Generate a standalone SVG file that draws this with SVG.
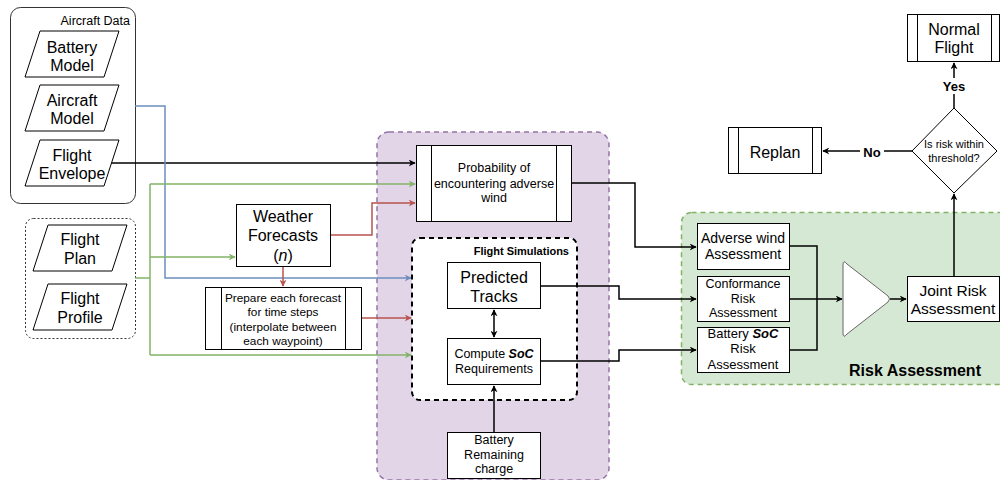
<svg xmlns="http://www.w3.org/2000/svg" width="1000" height="480" viewBox="0 0 1000 480">
<style>
text{font-family:"Liberation Sans",Arial,sans-serif;fill:#000;text-anchor:middle}
.box{fill:#fff;stroke:#000;stroke-width:1}
.inner{fill:none;stroke:#000;stroke-width:1}
.c{fill:none;stroke-width:1.5}
.k{stroke:#000}
.b{stroke:#6c8ebf}
.g{stroke:#82b366}
.r{stroke:#b85450}
.t16{font-size:16px}
.t15{font-size:15.5px}
.t14{font-size:14px}
.t13{font-size:13px}
.t125{font-size:12.5px}
.t12{font-size:11.8px}
.t11{font-size:11px}
.bold{font-weight:bold}
</style>
<defs>
<marker id="ak" viewBox="0 0 10 10" refX="9" refY="5" markerWidth="7" markerHeight="7" markerUnits="userSpaceOnUse" orient="auto-start-reverse"><path d="M0,0 L10,5 L0,10 L3,5 Z" fill="#000"/></marker>
<marker id="ab" viewBox="0 0 10 10" refX="9" refY="5" markerWidth="7" markerHeight="7" markerUnits="userSpaceOnUse" orient="auto"><path d="M0,0 L10,5 L0,10 L3,5 Z" fill="#6c8ebf"/></marker>
<marker id="ag" viewBox="0 0 10 10" refX="9" refY="5" markerWidth="7" markerHeight="7" markerUnits="userSpaceOnUse" orient="auto"><path d="M0,0 L10,5 L0,10 L3,5 Z" fill="#82b366"/></marker>
<marker id="ar" viewBox="0 0 10 10" refX="9" refY="5" markerWidth="7" markerHeight="7" markerUnits="userSpaceOnUse" orient="auto"><path d="M0,0 L10,5 L0,10 L3,5 Z" fill="#b85450"/></marker>
</defs>

<!-- containers -->
<g id="aircraft-data">
<rect x="10.5" y="7.5" width="125" height="196" rx="10" fill="#fff" stroke="#333" stroke-width="1"/>
<text x="130" y="25" style="text-anchor:end;font-size:12.5px">Aircraft Data</text>
</g>
<g id="flight-data">
<rect x="25.5" y="218.5" width="110" height="120" rx="8" fill="#fff" stroke="#333" stroke-width="1" stroke-dasharray="2,2"/>
</g>
<g id="purple-container">
<rect x="377" y="132" width="232" height="348" rx="12" fill="#e1d5e7" stroke="#9673a6" stroke-width="1.5" stroke-dasharray="5,4"/>
</g>
<g id="risk-container">
<rect x="681.5" y="212.5" width="330" height="172" rx="10" fill="#d5e8d4" stroke="#82b366" stroke-width="1.5" stroke-dasharray="5,4"/>
<text x="915" y="376" class="t16 bold">Risk Assessment</text>
</g>
<g id="flight-sims">
<rect x="412" y="238" width="165" height="162" rx="8" fill="#fff" stroke="#000" stroke-width="2" stroke-dasharray="5,4"/>
<text x="569" y="255" class="t11 bold" style="text-anchor:end">Flight Simulations</text>
</g>

<!-- connectors -->
<g id="connectors">
<path class="c k" d="M109,163 H415" marker-end="url(#ak)"/>
<path class="c b" d="M135,106 H165 V278 H411" marker-end="url(#ab)"/>
<path class="c g" d="M135,278 H150"/>
<path class="c g" d="M150,184 V355"/>
<path class="c g" d="M150,184 H415" marker-end="url(#ag)"/>
<path class="c g" d="M150,257 H235" marker-end="url(#ag)"/>
<path class="c g" d="M150,355 H411" marker-end="url(#ag)"/>
<path class="c r" d="M330,235 H372 V203 H415" marker-end="url(#ar)"/>
<path class="c r" d="M283,266 V286" marker-end="url(#ar)"/>
<path class="c r" d="M361,318 H411" marker-end="url(#ar)"/>
<path class="c k" d="M494,310 V337" marker-start="url(#ak)" marker-end="url(#ak)"/>
<path class="c k" d="M494,432 V386" marker-end="url(#ak)"/>
<path class="c k" d="M572,183 H635 V247 H696" marker-end="url(#ak)"/>
<path class="c k" d="M541,286 H619 V299 H696" marker-end="url(#ak)"/>
<path class="c k" d="M541,361 H619 V350 H696" marker-end="url(#ak)"/>
<path class="c k" d="M790,246 H817 V350 H790"/>
<path class="c k" d="M790,299 H842" marker-end="url(#ak)"/>
<path class="c k" d="M890,299 H906" marker-end="url(#ak)"/>
<path class="c k" d="M954,276 V194" marker-end="url(#ak)"/>
<path class="c k" d="M912,151 H823" marker-end="url(#ak)"/>
<path class="c k" d="M954,108 V63" marker-end="url(#ak)"/>
<rect x="860" y="143" width="24" height="17" fill="#fff"/>
<text x="872" y="157" class="t13 bold">No</text>
<rect x="940" y="78" width="28" height="16" fill="#fff"/>
<text x="954" y="91" class="t13 bold">Yes</text>
</g>

<!-- nodes -->
<g id="battery-model">
<polygon class="box" points="40,31 119,31 104,77 25,77"/>
<text x="72" y="52.5" class="t16">Battery</text><text x="72" y="71" class="t16">Model</text>
</g>
<g id="aircraft-model">
<polygon class="box" points="40,85 119,85 104,131 25,131"/>
<text x="72" y="106" class="t16">Aircraft</text><text x="72" y="124" class="t16">Model</text>
</g>
<g id="flight-envelope">
<polygon class="box" points="40,140 119,140 104,186 25,186"/>
<text x="72" y="161" class="t16">Flight</text><text x="72" y="179" class="t16">Envelope</text>
</g>
<g id="flight-plan">
<polygon class="box" points="48,225 127,225 112,271 33,271"/>
<text x="80" y="245" class="t16">Flight</text><text x="80" y="264" class="t16">Plan</text>
</g>
<g id="flight-profile">
<polygon class="box" points="48,284 127,284 112,330 33,330"/>
<text x="80" y="304" class="t16">Flight</text><text x="80" y="323" class="t16">Profile</text>
</g>
<g id="weather">
<rect class="box" x="236.5" y="204.5" width="94" height="62"/>
<text x="283" y="222" class="t16">Weather</text><text x="283" y="241" class="t16">Forecasts</text><text x="283" y="261" class="t16">(<tspan font-style="italic">n</tspan>)</text>
</g>
<g id="prepare">
<rect class="box" x="205.5" y="287.5" width="156" height="62"/>
<path class="inner" d="M221.5,287.5 V349.5 M345.5,287.5 V349.5"/>
<text x="283" y="302" class="t12">Prepare each forecast</text><text x="283" y="316" class="t12">for time steps</text><text x="283" y="331" class="t12">(interpolate between</text><text x="283" y="345" class="t12">each waypoint)</text>
</g>
<g id="probability">
<rect class="box" x="416.5" y="145.5" width="155" height="76"/>
<path class="inner" d="M431.5,145.5 V221.5 M556.5,145.5 V221.5"/>
<text x="494" y="172" class="t125">Probability of</text><text x="494" y="188" class="t125">encountering adverse</text><text x="494" y="202" class="t125">wind</text>
</g>
<g id="predicted-tracks">
<rect class="box" x="447.5" y="262.5" width="93" height="46"/>
<text x="494" y="283" class="t16">Predicted</text><text x="494" y="302" class="t16">Tracks</text>
</g>
<g id="compute-soc">
<rect class="box" x="447.5" y="338.5" width="93" height="46"/>
<text x="494" y="358" class="t125">Compute <tspan font-weight="bold" font-style="italic">SoC</tspan></text><text x="494" y="373" class="t125">Requirements</text>
</g>
<g id="battery-remaining">
<rect class="box" x="447.5" y="432.5" width="93" height="46"/>
<text x="494" y="444" class="t125">Battery</text><text x="494" y="459" class="t125">Remaining</text><text x="494" y="473" class="t125">charge</text>
</g>
<g id="adverse-wind">
<rect class="box" x="697.5" y="223.5" width="92" height="46"/>
<text x="743" y="243" class="t14">Adverse wind</text><text x="743" y="259" class="t14">Assessment</text>
</g>
<g id="conformance">
<rect class="box" x="697.5" y="276.5" width="92" height="45"/>
<text x="743" y="288" class="t125">Conformance</text><text x="743" y="303" class="t125">Risk</text><text x="743" y="317" class="t125">Assessment</text>
</g>
<g id="battery-soc">
<rect class="box" x="697.5" y="327.5" width="92" height="45"/>
<text x="743" y="338" class="t13">Battery <tspan font-weight="bold" font-style="italic">SoC</tspan></text><text x="743" y="353" class="t13">Risk</text><text x="743" y="369" class="t13">Assessment</text>
</g>
<g id="combiner">
<path d="M843,265 Q843,259 847,264 L888,296 Q891,299 888,302 L847,334 Q843,339 843,333 Z" fill="#fff" stroke="#666" stroke-width="1"/>
</g>
<g id="joint-risk">
<rect class="box" x="907.5" y="276.5" width="92" height="45"/>
<text x="953" y="296" class="t15">Joint Risk</text><text x="953" y="314" class="t15">Assessment</text>
</g>
<g id="decision">
<polygon class="box" points="954,108 997,151 954,193 912,151" stroke="#333"/>
<text x="954" y="148" class="t11">Is risk within</text><text x="954" y="162" class="t11">threshold?</text>
</g>
<g id="replan">
<rect class="box" x="728.5" y="127.5" width="93" height="46"/>
<path class="inner" d="M738.5,127.5 V173.5 M812.5,127.5 V173.5"/>
<text x="775" y="157.5" class="t16">Replan</text>
</g>
<g id="normal-flight">
<rect class="box" x="907.5" y="14.5" width="92" height="47"/>
<path class="inner" d="M917.5,14.5 V61.5 M991.5,14.5 V61.5"/>
<text x="954" y="35" class="t16">Normal</text><text x="954" y="52.5" class="t16">Flight</text>
</g>
</svg>
